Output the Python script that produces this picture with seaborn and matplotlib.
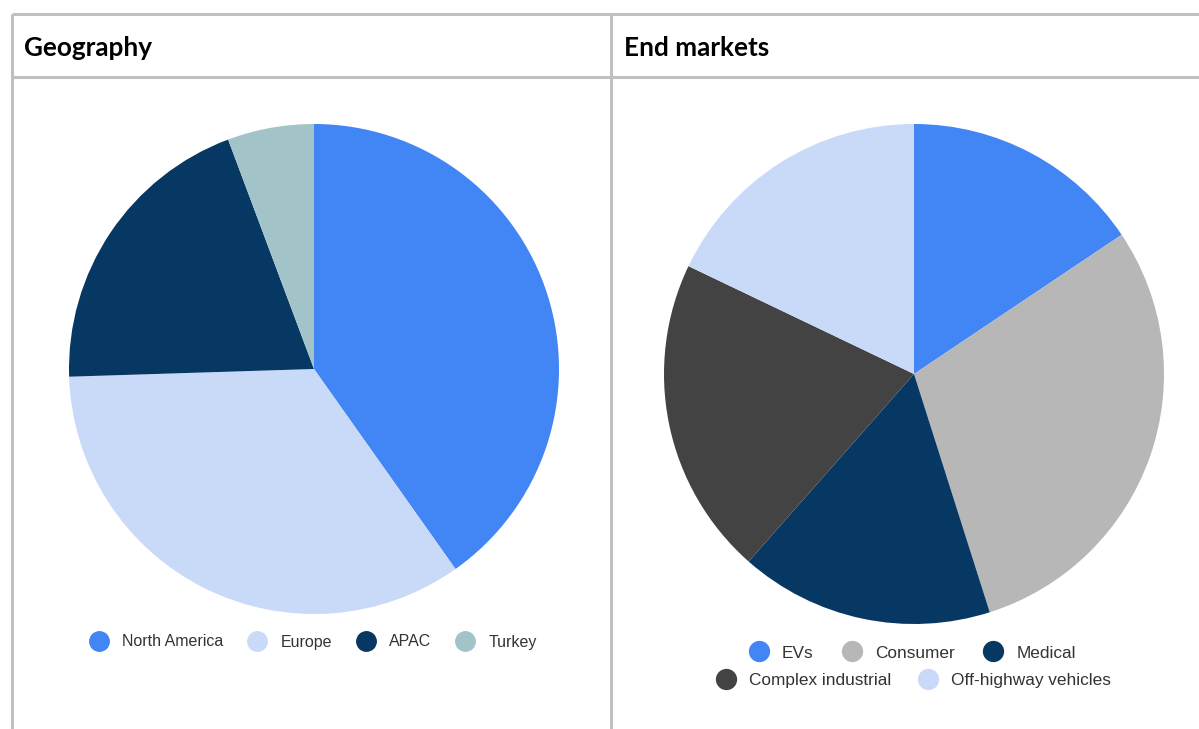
import matplotlib
matplotlib.use("Agg")
import matplotlib.pyplot as plt
from matplotlib.lines import Line2D
import seaborn as sns

# ---- data ----
geo_labels = ["North America", "Europe", "APAC", "Turkey"]
geo_values = [40.2, 34.3, 19.8, 5.7]
geo_colors = ["#4285f4", "#c9daf8", "#073763", "#a2c4c9"]

mkt_labels = ["EVs", "Consumer", "Medical", "Complex industrial", "Off-highway vehicles"]
mkt_values = [15.6, 29.5, 16.4, 20.6, 17.9]
mkt_colors = ["#4285f4", "#b7b7b7", "#073763", "#434343", "#c9daf8"]

panel_titles = ["Geography", "End markets"]

sns.set_theme(style="white")
plt.rcParams["font.family"] = ["Liberation Sans", "DejaVu Sans"]

W, H = 1199, 729
fig = plt.figure(figsize=(W / 100, H / 100), dpi=100)
fig.patch.set_facecolor("white")

# background axes in pixel coordinates for table borders & titles
bg = fig.add_axes([0, 0, 1, 1])
bg.set_xlim(0, W)
bg.set_ylim(H, 0)
bg.axis("off")
line_kw = dict(color="#c0c0c0", lw=2.2, solid_capstyle="butt")
bg.plot([12, W + 5], [13.5, 13.5], **line_kw)
bg.plot([12, W + 5], [77, 77], **line_kw)
bg.plot([12, 12], [13.5, H + 5], **line_kw)
bg.plot([611, 611], [13.5, H + 5], **line_kw)
for x0, title in zip([24, 624], panel_titles):
    bg.text(x0, 48, title, fontsize=18.8, fontweight="bold", family=["Lato", "DejaVu Sans"],
            color="#000000", va="center", ha="left")


def pie_axes(cx, cy, r):
    return fig.add_axes([(cx - r) / W, 1 - (cy + r) / H, 2 * r / W, 2 * r / H])


def draw_pie(ax, values, colors):
    ax.pie(values, colors=colors, startangle=90, counterclock=False,
           wedgeprops=dict(linewidth=0), radius=1)
    ax.set_xlim(-1, 1)
    ax.set_ylim(-1, 1)
    ax.set_aspect("equal")
    ax.axis("off")


ax1 = pie_axes(314, 369, 245)
draw_pie(ax1, geo_values, geo_colors)
ax2 = pie_axes(914, 374, 250)
draw_pie(ax2, mkt_values, mkt_colors)


def handles(labels, colors, ms):
    return [Line2D([0], [0], marker="o", linestyle="none", markersize=ms,
                   markerfacecolor=c, markeredgecolor=c, label=l)
            for l, c in zip(labels, colors)]


def add_legend(labels, colors, cx, cy, fs, ms, tpad, colsp):
    leg = fig.legend(handles=handles(labels, colors, ms), loc="center",
                     bbox_to_anchor=(cx / W, 1 - cy / H), ncol=len(labels),
                     frameon=False, fontsize=fs, handlelength=1.0,
                     handletextpad=tpad, columnspacing=colsp, borderpad=0,
                     borderaxespad=0)
    for t in leg.get_texts():
        t.set_color("#333333")
    return leg


add_legend(geo_labels, geo_colors, 314, 642, 11.5, 14, 0.95, 1.62)
add_legend(mkt_labels[:3], mkt_colors[:3], 913, 653, 12.4, 14.3, 0.85, 1.72)
add_legend(mkt_labels[3:], mkt_colors[3:], 914, 680, 12.4, 14.3, 0.85, 1.6)

fig.savefig("out.png", dpi=100, facecolor="white")
